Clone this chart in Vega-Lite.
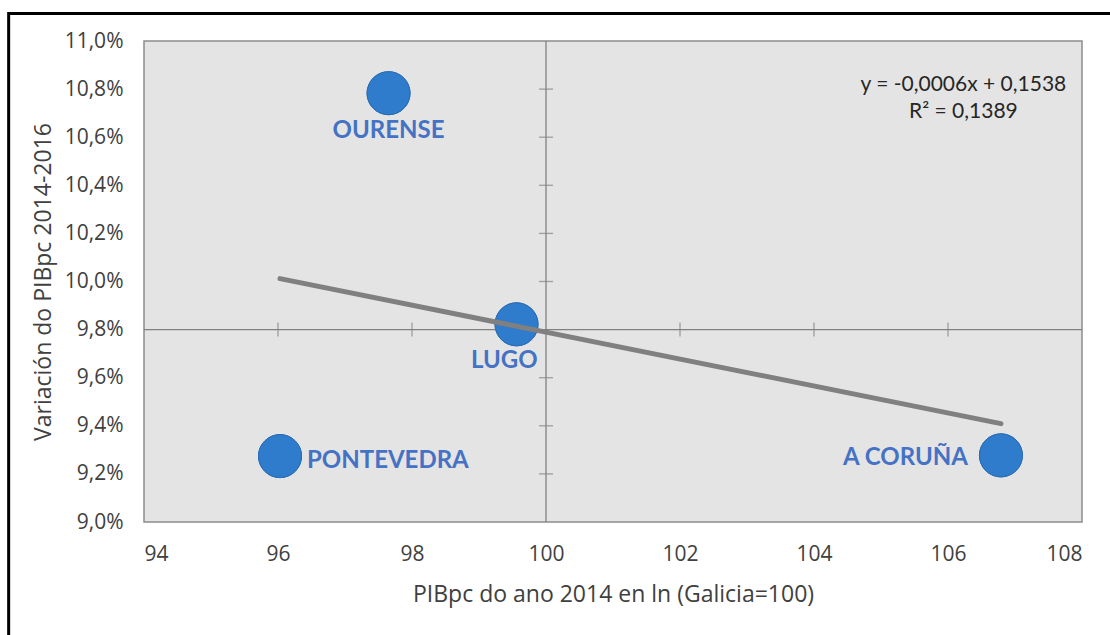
{
  "$schema": "https://vega.github.io/schema/vega-lite/v6.json",
  "width": 938,
  "height": 481,
  "autosize": {"type": "none"},
  "padding": {"left": 144, "top": 41, "right": 28, "bottom": 113},
  "background": "white",
  "config": {
    "locale": {"number": {"decimal": ",", "thousands": ".", "grouping": [3], "currency": ["", " €"]}},
    "view": {"fill": "#E4E4E4", "stroke": "#8C8C8C", "strokeWidth": 1.5},
    "axis": {
      "grid": false, "ticks": false, "domain": false,
      "labelFont": "Open Sans", "labelFontSize": 21, "labelColor": "#404040",
      "titleFont": "Open Sans", "titleFontSize": 23, "titleColor": "#404040", "titleFontWeight": "normal"
    }
  },
  "data": {"values": [{"note": "frame"}]},
  "datasets": {
    "regions": [
      {"name": "OURENSE", "x": 97.65, "y": 0.10783},
      {"name": "LUGO", "x": 99.56, "y": 0.09822},
      {"name": "PONTEVEDRA", "x": 96.03, "y": 0.09274},
      {"name": "A CORUÑA", "x": 106.79, "y": 0.09277}
    ],
    "trend": [
      {"x": 96.03, "y": 0.10012},
      {"x": 106.79, "y": 0.09409}
    ],
    "yticks": [
      {"y": 0.092}, {"y": 0.094}, {"y": 0.096}, {"y": 0.1}, {"y": 0.102}, {"y": 0.104}, {"y": 0.106}, {"y": 0.108}
    ],
    "xticks": [
      {"x": 96}, {"x": 98}, {"x": 102}, {"x": 104}, {"x": 106}
    ]
  },
  "layer": [
    {
      "data": {"name": "regions"},
      "mark": {"type": "circle", "size": 1850, "color": "#2E7CCB", "opacity": 1, "stroke": "#2A6DB5", "strokeWidth": 1},
      "encoding": {
        "x": {
          "field": "x", "type": "quantitative",
          "scale": {"domain": [94, 108], "nice": false, "zero": false},
          "axis": {"values": [94, 96, 98, 100, 102, 104, 106, 108], "format": "d", "labelPadding": 21, "title": "PIBpc do ano 2014 en ln (Galicia=100)", "titlePadding": 19}
        },
        "y": {
          "field": "y", "type": "quantitative",
          "scale": {"domain": [0.09, 0.11], "nice": false, "zero": false},
          "axis": {"values": [0.09, 0.092, 0.094, 0.096, 0.098, 0.1, 0.102, 0.104, 0.106, 0.108, 0.11], "format": ".1%", "labelPadding": 21, "title": "Variación do PIBpc 2014-2016", "titlePadding": 9}
        }
      }
    },
    {
      "mark": {"type": "rect", "filled": false, "stroke": "#000000", "strokeWidth": 3, "clip": false},
      "encoding": {
        "x": {"datum": 91.98, "type": "quantitative"},
        "x2": {"datum": 112},
        "y": {"datum": 0.11114, "type": "quantitative"},
        "y2": {"datum": 0.085}
      }
    },
    {
      "mark": {"type": "rule", "color": "#808080", "strokeWidth": 1.3},
      "encoding": {
        "x": {"datum": 100, "type": "quantitative"}
      }
    },
    {
      "mark": {"type": "rule", "color": "#808080", "strokeWidth": 1.3},
      "encoding": {
        "y": {"datum": 0.098, "type": "quantitative"}
      }
    },
    {
      "data": {"name": "yticks"},
      "mark": {"type": "tick", "orient": "horizontal", "color": "#808080", "size": 14, "thickness": 1.3},
      "encoding": {
        "x": {"datum": 100, "type": "quantitative"},
        "y": {"field": "y", "type": "quantitative"}
      }
    },
    {
      "data": {"name": "xticks"},
      "mark": {"type": "tick", "orient": "vertical", "color": "#808080", "size": 14, "thickness": 1.3},
      "encoding": {
        "x": {"field": "x", "type": "quantitative"},
        "y": {"datum": 0.098, "type": "quantitative"}
      }
    },
    {
      "data": {"name": "regions"},
      "mark": {"type": "circle", "size": 1850, "color": "#2E7CCB", "opacity": 1, "stroke": "#2A6DB5", "strokeWidth": 1},
      "encoding": {
        "x": {"field": "x", "type": "quantitative"},
        "y": {"field": "y", "type": "quantitative"}
      }
    },
    {
      "data": {"name": "trend"},
      "mark": {"type": "line", "color": "#808080", "strokeWidth": 5, "strokeCap": "round"},
      "encoding": {
        "x": {"field": "x", "type": "quantitative"},
        "y": {"field": "y", "type": "quantitative"}
      }
    },
    {
      "data": {"name": "regions"},
      "transform": [{"filter": "datum.name === 'OURENSE'"}],
      "mark": {"type": "text", "font": "Lato", "fontWeight": "bold", "fontSize": 24, "color": "#4472C4", "align": "center", "baseline": "middle", "dy": 38},
      "encoding": {
        "x": {"field": "x", "type": "quantitative"},
        "y": {"field": "y", "type": "quantitative"},
        "text": {"field": "name"}
      }
    },
    {
      "data": {"name": "regions"},
      "transform": [{"filter": "datum.name === 'LUGO'"}],
      "mark": {"type": "text", "font": "Lato", "fontWeight": "bold", "fontSize": 24, "color": "#4472C4", "align": "right", "baseline": "middle", "dx": 21, "dy": 37},
      "encoding": {
        "x": {"field": "x", "type": "quantitative"},
        "y": {"field": "y", "type": "quantitative"},
        "text": {"field": "name"}
      }
    },
    {
      "data": {"name": "regions"},
      "transform": [{"filter": "datum.name === 'PONTEVEDRA'"}],
      "mark": {"type": "text", "font": "Lato", "fontWeight": "bold", "fontSize": 24, "color": "#4472C4", "align": "left", "baseline": "middle", "dx": 27, "dy": 5},
      "encoding": {
        "x": {"field": "x", "type": "quantitative"},
        "y": {"field": "y", "type": "quantitative"},
        "text": {"field": "name"}
      }
    },
    {
      "data": {"name": "regions"},
      "transform": [{"filter": "datum.name === 'A CORUÑA'"}],
      "mark": {"type": "text", "font": "Lato", "fontWeight": "bold", "fontSize": 24, "color": "#4472C4", "align": "right", "baseline": "middle", "dx": -33, "dy": 3},
      "encoding": {
        "x": {"field": "x", "type": "quantitative"},
        "y": {"field": "y", "type": "quantitative"},
        "text": {"field": "name"}
      }
    },
    {
      "mark": {"type": "text", "font": "Lato", "fontSize": 21, "color": "#262626", "align": "center", "baseline": "middle", "lineHeight": 27},
      "encoding": {
        "x": {"datum": 106.23, "type": "quantitative"},
        "y": {"datum": 0.10817, "type": "quantitative"},
        "text": {"value": ["y = -0,0006x + 0,1538", "R² = 0,1389"]}
      }
    }
  ]
}
